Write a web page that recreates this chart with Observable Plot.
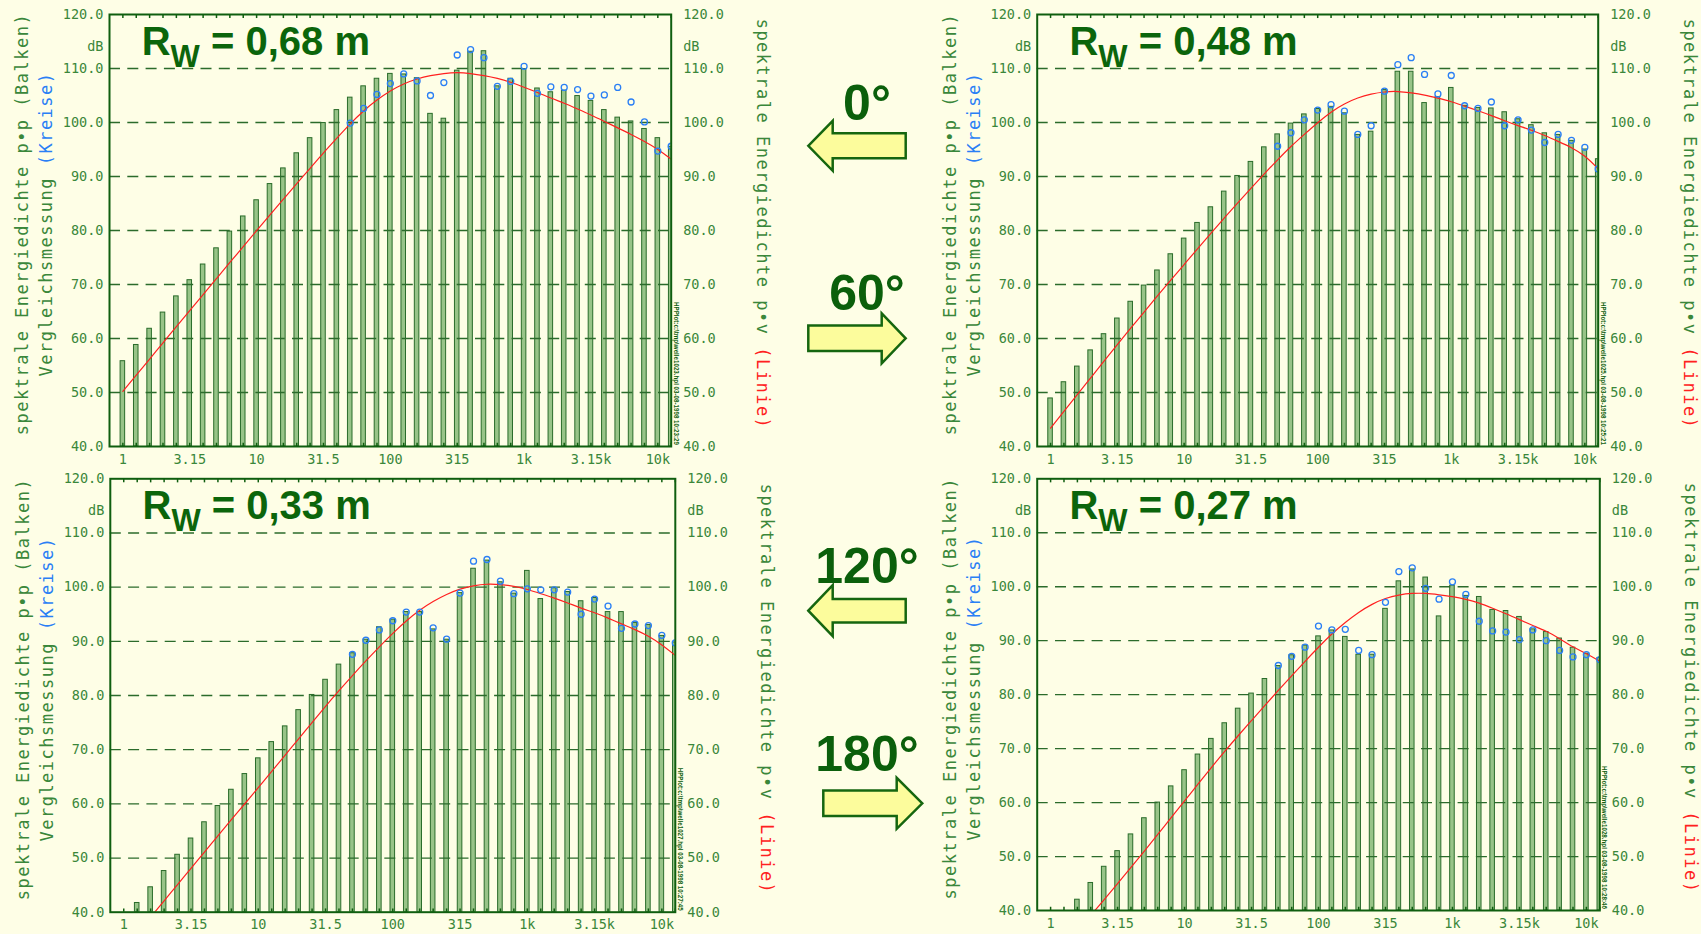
<!DOCTYPE html>
<html>
<head>
<meta charset="utf-8">
<script src="https://cdn.jsdelivr.net/npm/d3@7"></script>
<script src="https://cdn.jsdelivr.net/npm/@observablehq/plot@0.6"></script>
<style>
html, body { margin: 0; padding: 0; background: #fefee6; }
#root { position: relative; width: 1701px; height: 934px; overflow: hidden; background: #fefee6; }
.panel { position: absolute; }
#deco { position: absolute; left: 0; top: 0; }
</style>
</head>
<body>
<div id="root"></div>
<script>
// ---------- data ----------
const bandLabels = ["1","1.25","1.6","2","2.5","3.15","4","5","6.3","8","10","12.5","16","20","25","31.5","40","50","63","80",
  "100","125","160","200","250","315","400","500","630","800","1k","1.25k","1.6k","2k","2.5k","3.15k","4k","5k","6.3k","8k","10k","12.5k"];
const xTickBands = [0, 5, 10, 15, 20, 25, 30, 35, 40];
const yTicks = [40, 50, 60, 70, 80, 90, 100, 110, 120];
const gridLevels = [50, 60, 70, 80, 90, 100, 110];
const radii = ["0,68", "0,48", "0,33", "0,27"];
const angleLabels = ["0°", "60°", "120°", "180°"];
const fileNotes = [
  "HPPlot:c:\\tmp\\welle1023.hpl 03-08-1998 10:23:29",
  "HPPlot:c:\\tmp\\welle1025.hpl 03-08-1998 10:25:21",
  "HPPlot:c:\\tmp\\welle1027.hpl 03-08-1998 10:27:45",
  "HPPlot:c:\\tmp\\welle1028.hpl 03-08-1998 10:28:46"
];

// spektrale Energiedichte p*p (Balken), dB per 1/3-octave band
const barsA = [55.8,58.8,61.8,64.8,67.8,70.8,73.7,76.7,79.8,82.6,85.6,88.6,91.5,94.3,97.1,99.9,102.3,104.6,106.7,108.1,
  109.0,108.9,108.2,101.6,100.7,109.6,113.1,113.2,106.7,108.1,109.9,106.3,105.6,105.9,104.9,104.0,102.3,100.9,100.2,98.8,97.1,95.5];
const barsB = [48.9,51.9,54.8,57.8,60.8,63.7,66.8,69.8,72.6,75.6,78.5,81.4,84.3,87.2,90.1,92.7,95.4,97.8,99.8,101.5,
  102.5,102.9,101.7,97.7,98.3,106.0,109.4,109.4,103.6,104.7,106.4,103.1,102.7,102.6,101.9,100.6,99.5,98.0,97.7,96.6,95.0,93.2];
const barsC = [null,41.7,44.6,47.6,50.6,53.6,56.6,59.6,62.6,65.5,68.4,71.4,74.3,77.3,80.1,82.9,85.7,87.8,90.3,92.6,
  94.0,95.4,95.4,92.2,90.3,98.9,103.4,104.9,100.9,98.8,103.0,97.8,99.8,99.1,97.4,98.0,95.4,95.4,93.4,93.0,91.0,89.8];
const barsD = [null,null,42.0,45.1,48.1,51.0,54.1,57.1,60.0,63.0,66.0,68.9,71.8,74.7,77.4,80.2,82.9,85.3,87.3,89.1,
  90.8,91.9,90.7,87.4,87.4,95.9,101.0,103.2,101.7,94.5,100.2,98.3,98.1,95.7,95.5,94.4,92.1,91.6,90.4,88.7,87.6,86.8];

// Vergleichsmessung (Kreise)
const circlesA = [null,null,null,null,null,null,null,null,null,null,null,null,null,null,null,null,null,
  99.9,102.6,105.2,107.2,109.0,107.7,105.0,107.4,112.5,113.5,112.0,106.7,107.6,110.4,105.4,106.6,106.5,106.1,104.9,105.1,106.5,103.8,100.1,94.7,95.6];
const circlesB = [null,null,null,null,null,null,null,null,null,null,null,null,null,null,null,null,null,
  95.6,98.1,100.5,102.3,103.3,102.1,97.8,99.4,105.8,110.7,112.0,108.9,105.3,108.7,103.1,102.6,103.8,99.4,100.5,98.6,96.3,97.8,96.7,95.4,91.4];
const circlesC = [null,null,null,null,null,null,null,null,null,null,null,null,null,null,null,null,null,
  87.6,90.2,92.1,93.8,95.4,95.4,92.5,90.4,98.9,104.8,105.1,101.1,98.8,99.7,99.5,99.5,99.1,95.0,97.8,96.5,92.4,93.2,92.9,91.1,89.7];
const circlesD = [null,null,null,null,null,null,null,null,null,null,null,null,null,null,null,null,null,
  85.4,87.1,88.8,92.7,92.0,92.1,88.2,87.4,97.1,102.8,103.5,99.7,97.7,100.9,98.6,93.6,91.8,91.6,90.2,92.0,90.0,88.2,87.0,87.4,86.5];

// spektrale Energiedichte p*v (Linie)
const lineA = [50.2,53.2,56.2,59.2,62.2,65.2,68.1,71.1,74.1,77.0,80.0,82.9,85.8,88.7,91.5,94.4,97.1,99.8,102.2,104.2,
  105.9,107.2,108.1,108.7,109.1,109.3,109.1,108.7,108.2,107.5,106.5,105.6,104.5,103.6,102.5,101.4,100.2,99.0,97.8,96.5,95.1,93.2];
const lineB = [43.4,46.5,49.6,52.7,55.8,58.9,61.9,64.9,67.9,70.8,73.7,76.6,79.5,82.3,85.1,87.8,90.5,93.1,95.6,97.8,
  100.0,102.0,103.5,104.6,105.3,105.7,105.8,105.5,105.1,104.5,103.9,103.0,102.2,101.3,100.3,99.4,98.6,97.6,96.5,95.4,93.9,91.4];
const lineC = [null,null,39.1,42.1,45.1,48.1,51.1,54.1,57.1,60.0,63.0,66.0,69.0,72.0,75.0,78.0,80.9,83.7,86.4,89.0,
  91.5,93.8,95.8,97.4,98.7,99.7,100.3,100.6,100.5,100.2,99.6,98.8,98.0,97.1,96.1,95.3,94.3,93.2,92.2,91.0,89.4,87.4];
const lineD = [null,null,null,39.1,42.0,45.0,48.0,51.0,54.1,57.2,60.3,63.4,66.5,69.5,72.4,75.2,78.0,80.8,83.5,86.2,
  88.8,91.3,93.4,95.3,96.8,97.9,98.5,98.8,98.8,98.5,98.2,97.7,97.0,96.0,95.0,93.9,92.8,91.8,90.4,88.8,87.6,86.2];

// ---------- style ----------
const FRAME = "#0f5e0f";
const GRID = "#2b6b2b";
const BAR_FILL = "#98c488";
const BAR_STROKE = "#2a6c2a";
const TICK_TXT = "#3a873a";
const TITLE = "#0b650b";
const BLUE = "#2a7ff5";
const RED = "#ff2020";
const MONO = "DejaVu Sans Mono, monospace";
const SANS = "Liberation Sans, Arial, sans-serif";

const panels = [
  {bars: barsA, circles: circlesA, line: lineA, radius: radii[0], note: fileNotes[0],
   left: 0, top: 0, width: 800, height: 467, mL: 109, mR: 129.3, mT: 14, mB: 21},
  {bars: barsB, circles: circlesB, line: lineB, radius: radii[1], note: fileNotes[1],
   left: 927, top: 0, width: 774, height: 467, mL: 109.7, mR: 103.3, mT: 14, mB: 21},
  {bars: barsC, circles: circlesC, line: lineC, radius: radii[2], note: fileNotes[2],
   left: 0, top: 465, width: 800, height: 469, mL: 109.8, mR: 125.2, mT: 13.3, mB: 22.3},
  {bars: barsD, circles: circlesD, line: lineD, radius: radii[3], note: fileNotes[3],
   left: 927, top: 465, width: 774, height: 469, mL: 109.7, mR: 101.7, mT: 13.3, mB: 24}
];

const root = document.getElementById("root");

function makePanel(cfg) {
  const rows = bandLabels.map((label, i) => ({i, label, bar: cfg.bars[i], circle: cfg.circles[i], line: cfg.line[i]}));
  const lineRows = rows.filter(d => d.line != null);
  const txt = {fill: TICK_TXT, fontFamily: MONO, fontSize: 13.5};
  const chart = Plot.plot({
    width: cfg.width,
    height: cfg.height,
    marginLeft: cfg.mL,
    marginRight: cfg.mR,
    marginTop: cfg.mT,
    marginBottom: cfg.mB,
    style: {background: "transparent", overflow: "visible", maxWidth: "none", fontFamily: MONO},
    x: {domain: [-1, 41], axis: null},
    y: {domain: [40, 120], axis: null},
    marks: [
      Plot.rect(rows, {x1: d => d.i - 0.17, x2: d => d.i + 0.17, y1: 40, y2: "bar",
        fill: BAR_FILL, stroke: BAR_STROKE, strokeWidth: 1, clip: true}),
      Plot.ruleY(gridLevels, {stroke: GRID, strokeWidth: 1.3, strokeDasharray: "11,7.3"}),
      Plot.ruleX(rows, {x: "i", y1: 120, y2: 119.25, stroke: FRAME, strokeWidth: 1.5}),
      Plot.ruleX(rows, {x: "i", y1: 40, y2: 40.6, stroke: FRAME, strokeWidth: 1.5}),
      Plot.line(lineRows, {x: "i", y: "line", stroke: RED, strokeWidth: 1.2, curve: "basis", clip: true}),
      Plot.dot(rows, {x: "i", y: "circle", r: 3, stroke: BLUE, strokeWidth: 1.3, fill: "none", clip: true}),
      Plot.frame({stroke: FRAME, strokeWidth: 2}),
      Plot.text(yTicks, {y: d => d, text: d => d.toFixed(1), frameAnchor: "left", textAnchor: "end", dx: -6, ...txt}),
      Plot.text(yTicks, {y: d => d, text: d => d.toFixed(1), frameAnchor: "right", textAnchor: "start", dx: 12, ...txt}),
      Plot.text(xTickBands, {x: d => d, text: d => bandLabels[d], frameAnchor: "bottom", dy: 17, ...txt}),
      Plot.text(["dB"], {frameAnchor: "top-left", textAnchor: "end", dx: -6, dy: 27, ...txt}),
      Plot.text(["dB"], {frameAnchor: "top-right", textAnchor: "start", dx: 12, dy: 27, ...txt})
    ]
  });

  const svg = d3.select(chart);
  const fl = cfg.mL, fr = cfg.width - cfg.mR, ft = cfg.mT, fb = cfg.height - cfg.mB;
  const fcy = (ft + fb) / 2 - 6;

  // R_W title
  const t = svg.append("text")
    .attr("x", fl + 32.7).attr("y", ft + 41)
    .attr("text-anchor", "start")
    .attr("font-family", SANS).attr("font-size", 40).attr("font-weight", 700)
    .attr("fill", TITLE);
  t.append("tspan").text("R");
  t.append("tspan").attr("font-size", 31).attr("dy", 11.7).text("W");
  t.append("tspan").attr("dy", -11.7).text(" = " + cfg.radius + " m");

  // left axis titles
  const titleStyle = s => s.attr("font-family", MONO).attr("font-size", 17)
    .attr("letter-spacing", 1.5).attr("text-anchor", "middle").attr("fill", TICK_TXT);
  svg.append("text").call(titleStyle)
    .attr("transform", `translate(${fl - 81},${fcy}) rotate(-90)`)
    .text("spektrale Energiedichte p•p (Balken)");
  const l2 = svg.append("text").call(titleStyle)
    .attr("transform", `translate(${fl - 57},${fcy}) rotate(-90)`);
  l2.append("tspan").text("Vergleichsmessung ");
  l2.append("tspan").attr("fill", BLUE).text("(Kreise)");

  // right axis title
  const r1 = svg.append("text").call(titleStyle)
    .attr("transform", `translate(${fr + 86},${fcy}) rotate(90)`);
  r1.append("tspan").text("spektrale Energiedichte p•v ");
  r1.append("tspan").attr("fill", RED).text("(Linie)");

  // plotter file note
  svg.append("text")
    .attr("transform", `translate(${fr + 3},${fb - 144}) rotate(90)`)
    .attr("text-anchor", "start")
    .attr("font-family", SANS).attr("font-size", 6.5).attr("font-weight", 700)
    .attr("textLength", 143).attr("lengthAdjust", "spacingAndGlyphs")
    .attr("fill", FRAME).text(cfg.note);

  const div = document.createElement("div");
  div.className = "panel";
  div.style.left = cfg.left + "px";
  div.style.top = cfg.top + "px";
  div.style.width = cfg.width + "px";
  div.style.height = cfg.height + "px";
  div.appendChild(chart);
  root.appendChild(div);
}

panels.forEach(makePanel);

// ---------- direction arrows (decoration) ----------
const arrowShapes = [
  {tipX: 808.3, baseX: 832.7, tailX: 905.7, cy: 145.8, shaftH: 12.5, headH: 25, textY: 120},
  {tipX: 905.7, baseX: 881.7, tailX: 808.3, cy: 338.3, shaftH: 12.7, headH: 25, textY: 310},
  {tipX: 808.3, baseX: 832.7, tailX: 905.7, cy: 610.7, shaftH: 11.7, headH: 25.5, textY: 583},
  {tipX: 922.3, baseX: 896.7, tailX: 823.3, cy: 803.3, shaftH: 12.7, headH: 25.5, textY: 771}
];
const deco = d3.select(root).append("svg").attr("id", "deco").attr("width", 1701).attr("height", 934);
arrowShapes.forEach((a, k) => {
  const p = `M${a.tipX},${a.cy} L${a.baseX},${a.cy - a.headH} L${a.baseX},${a.cy - a.shaftH} L${a.tailX},${a.cy - a.shaftH} ` +
            `L${a.tailX},${a.cy + a.shaftH} L${a.baseX},${a.cy + a.shaftH} L${a.baseX},${a.cy + a.headH} Z`;
  deco.append("path").attr("d", p).attr("fill", "#fcfc9c").attr("stroke", "#15660f")
    .attr("stroke-width", 2.5).attr("stroke-linejoin", "miter");
  deco.append("text").attr("x", 867).attr("y", a.textY).attr("text-anchor", "middle")
    .attr("font-family", SANS).attr("font-size", 50).attr("font-weight", 700)
    .attr("fill", "#0b5f0b").text(angleLabels[k]);
});
</script>
</body>
</html>
